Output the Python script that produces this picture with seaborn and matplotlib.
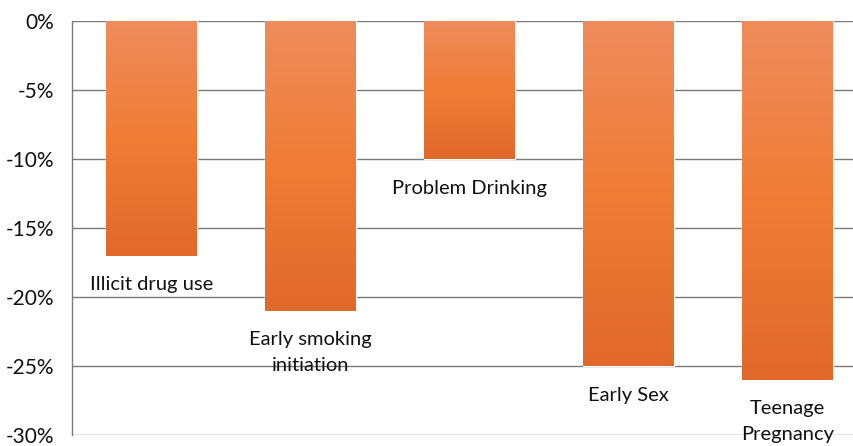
import numpy as np
import pandas as pd
import matplotlib
matplotlib.use("Agg")
import matplotlib.pyplot as plt
import seaborn as sns
from matplotlib.colors import LinearSegmentedColormap

# data
categories = ["Illicit drug use", "Early smoking\ninitiation", "Problem Drinking",
              "Early Sex", "Teenage\nPregnancy"]
values = [-17, -21, -10, -25, -26]
yticks = [0, -5, -10, -15, -20, -25, -30]

df = pd.DataFrame({"cat": categories, "val": values})

sns.set_style("white")
plt.rcParams["font.family"] = ["Lato", "DejaVu Sans"]

fig = plt.figure(figsize=(8.54, 4.46), dpi=100)
ax = fig.add_axes([72 / 854, 11 / 446, 795 / 854, 414 / 446])

sns.barplot(data=df, x="cat", y="val", color="#EE7B3C", width=0.57,
            saturation=1, ax=ax, zorder=3)

# gradient fill like the original office chart
cmap = LinearSegmentedColormap.from_list("g", ["#EE8C5C", "#F07C36", "#E0692B"])
grad = np.linspace(0, 1, 256).reshape(-1, 1)
for bar in ax.patches:
    x0, y0 = bar.get_x(), bar.get_y()
    w, h = bar.get_width(), bar.get_height()
    top, bot = max(y0, y0 + h), min(y0, y0 + h)
    im = ax.imshow(grad, cmap=cmap, aspect="auto", extent=[x0, x0 + w, bot, top],
                   origin="upper", zorder=4)
    im.set_clip_path(bar)

ax.set_xlim(-0.5, 4.5)
ax.set_ylim(-30, 0)
ax.set_yticks(yticks)
ax.set_yticklabels([f"{t}%" for t in yticks], fontsize=15, color="#111111")
ax.tick_params(axis="y", length=0, pad=13)
ax.set_xticks([])
ax.set_xlabel("")
ax.set_ylabel("")

for t in yticks:
    ax.axhline(t, color="#7a7a7a", lw=1, zorder=1)

for s in ["top", "right", "bottom"]:
    ax.spines[s].set_visible(False)
ax.spines["left"].set_color("#7a7a7a")
ax.spines["left"].set_linewidth(1)

# category labels sit under each bar end
for i, (c, v) in enumerate(zip(categories, values)):
    ax.text(i, v - 1.5, c, ha="center", va="top", fontsize=14.5, color="#111111",
            linespacing=1.6, zorder=5)

fig.savefig("out.png", dpi=100)
